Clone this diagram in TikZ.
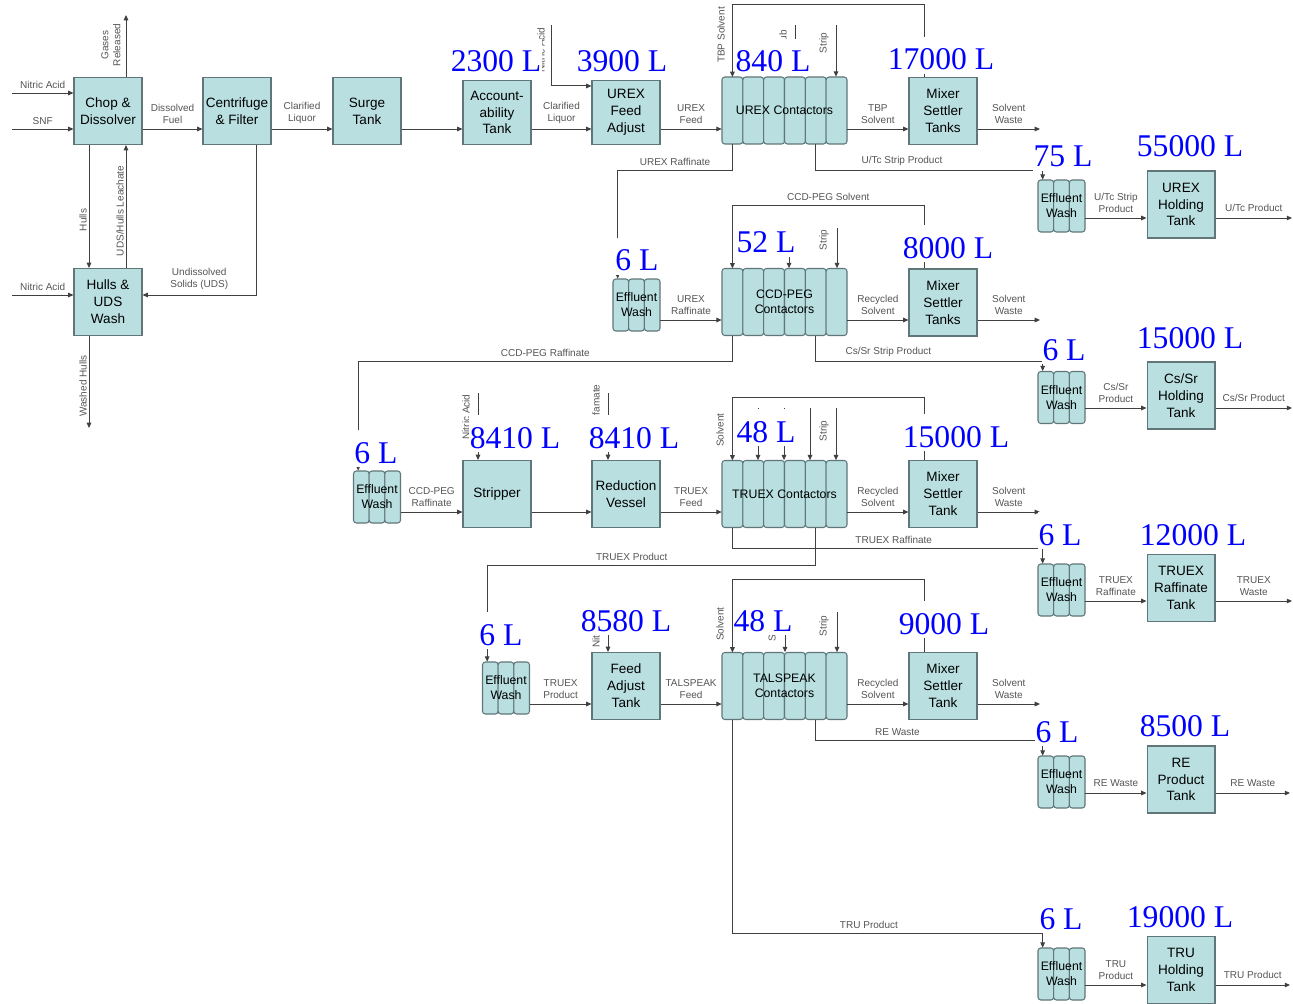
\documentclass[tikz,border=0pt]{standalone}
\usepackage{fontspec}
\setmainfont{Liberation Sans}
\newfontfamily\volfont{Liberation Serif}
\usetikzlibrary{arrows.meta,calc,positioning}

\definecolor{tankfill}{RGB}{185,223,225}
\definecolor{tankline}{RGB}{96,118,120}
\definecolor{pipe}{RGB}{64,64,64}
\definecolor{pipetext}{RGB}{85,85,85}

% six contactor stages, stage tops/bottoms kept as NAME-t1..t6 and NAME-b1..b6
\newcommand{\contactorbank}[4]{%
  \foreach \k in {1,...,6}{%
    \draw[cell] ({#2-62.5+(\k-1)*20.833},{#3-33.5}) rectangle ++(20.833,67);
    \coordinate (#1-t\k) at ({#2-62.5+(\k-0.5)*20.833},{#3-33.5});
    \coordinate (#1-b\k) at ({#2-62.5+(\k-0.5)*20.833},{#3+33.5});
  }
  \node[bank] (#1) at (#2,#3) {#4};
}
% three stage effluent wash
\newcommand{\washbank}[3]{%
  \foreach \k in {1,2,3}{%
    \draw[cell] ({#2-23.5+(\k-1)*15.667},{#3-26}) rectangle ++(15.667,52);
  }
  \node[bank, minimum width=0.94cm, minimum height=1.04cm] (#1) at (#2,#3) {Effluent\\Wash};
}

\begin{document}
\begin{tikzpicture}[
    x=0.02cm, y=-0.02cm,
    tank/.style={rectangle, draw=tankline, fill=tankfill, line width=0.6pt, minimum width=1.36cm, minimum height=1.34cm, inner sep=0pt, align=center, font=\fontsize{7.7}{9.6}\selectfont},
    cell/.style={draw=tankline, fill=tankfill, line width=0.6pt, rounded corners=1.6pt},
    bank/.style={rectangle, inner sep=0pt, minimum width=2.5cm, minimum height=1.34cm, align=center, font=\fontsize{7}{8.5}\selectfont},
    flow/.style={draw=pipe, line width=0.55pt, -{Triangle[length=3pt,width=2.6pt]}},
    tag/.style={font=\fontsize{5.7}{6.8}\selectfont, text=pipetext, align=center, inner sep=0pt},
    vtag/.style={tag, rotate=90},
    vol/.style={font=\volfont\fontsize{18}{18}\selectfont, text=blue, fill=white, inner xsep=0.5pt, inner ysep=0pt, text height=19pt, text depth=2.3pt, anchor=base}
]
\fill[white] (0,0) rectangle (1293,1003);
\useasboundingbox (0,0) rectangle (1293,1003);

% flow levels
\coordinate (r1) at (0,129);
\coordinate (r2) at (0,320);
\coordinate (r3) at (0,512);
\coordinate (r4) at (0,704);
\coordinate (q1) at (0,218);
\coordinate (q2) at (0,408);
\coordinate (q3) at (0,601);
\coordinate (q4) at (0,793);
\coordinate (q5) at (0,985);

% units
\node[tank] (chop) at (108,111) {Chop \&\\Dissolver};
\node[tank] (cent) at (237,111) {Centrifuge\\\& Filter};
\node[tank] (surge) at (367,111) {Surge\\Tank};
\node[tank] (hulls) at (108,302) {Hulls \&\\UDS\\Wash};
\node[tank, minimum height=1.28cm] (acct) at (497,112.5) {Account-\\ability\\Tank};
\node[tank, minimum height=1.28cm] (ufa) at (626,112.5) {UREX\\Feed\\Adjust};
\contactorbank{urexc}{784.5}{110.5}{UREX Contactors}
\node[tank] (msu) at (943,111) {Mixer\\Settler\\Tanks};
\washbank{ew1}{1061.5}{206}
\node[tank] (uht) at (1181,204.5) {UREX\\Holding\\Tank};

\washbank{ew2}{636.5}{305}
\contactorbank{ccdc}{784.5}{302}{CCD-PEG\\Contactors}
\node[tank] (msc) at (943,302.5) {Mixer\\Settler\\Tanks};
\washbank{ew3}{1061.5}{397.5}
\node[tank] (csht) at (1181,395.5) {Cs/Sr\\Holding\\Tank};

\washbank{ew4}{377}{497}
\node[tank] (strp) at (497,494) {Stripper};
\node[tank] (redv) at (626,494) {Reduction\\Vessel};
\contactorbank{truc}{784.5}{494}{TRUEX Contactors}
\node[tank] (mst) at (943,494) {Mixer\\Settler\\Tank};
\washbank{ew5}{1061.5}{590}
\node[tank] (trt) at (1181,588) {TRUEX\\Raffinate\\Tank};

\washbank{ew6}{506}{688}
\node[tank] (fat) at (626,686) {Feed\\Adjust\\Tank};
\contactorbank{talc}{784.5}{686}{TALSPEAK\\Contactors}
\node[tank] (msk) at (943,686) {Mixer\\Settler\\Tank};
\washbank{ew7}{1061.5}{782}
\node[tank] (rept) at (1181,779.5) {RE\\Product\\Tank};
\washbank{ew8}{1061.5}{974}
\node[tank] (truht) at (1181,970) {TRU\\Holding\\Tank};

% free ends
\coordinate (acidA) at (12,93);
\coordinate (snf) at (12,129);
\coordinate (acidB) at (12,295);
\coordinate (gases) at (126,15);
\coordinate (washed) at (89,428);
\coordinate (acidC) at (551,25);
\coordinate (scrubA) at (795,25);
\coordinate (stripA) at (836,25);
\coordinate (wasteA) at (1040,129);
\coordinate (utcout) at (1292,218);
\coordinate (scrubB) at (789,230);
\coordinate (stripB) at (837,228);
\coordinate (wasteB) at (1040,320);
\coordinate (cssrout) at (1292,408);
\coordinate (acidD) at (478,393);
\coordinate (sulf) at (608,393);
\foreach \xx [count=\n] in {758,784,810,836}
  \coordinate (feedC\n) at (\xx,408);
\coordinate (wasteC) at (1040,512);
\coordinate (trwaste) at (1292,601);
\coordinate (acidE) at (608,600);
\coordinate (scrubD) at (785,600);
\coordinate (stripD) at (837,612);
\coordinate (wasteD) at (1040,704);
\coordinate (reout) at (1290,793);
\coordinate (truout) at (1290,985);

% head end
\draw[flow] (acidA) -- (acidA -| chop.west) node[tag, midway, above=2.5pt] {Nitric Acid};
\draw[flow] (snf) -- (snf -| chop.west) node[tag, midway, above=2.5pt] {SNF};
\draw[flow] (gases |- chop.north) -- (gases);
\draw[flow] ($(chop.south)+(-19,0)$) -- ($(hulls.north)+(-19,0)$);
\draw[flow] ($(hulls.north)+(18,0)$) -- ($(chop.south)+(18,0)$);
\draw[flow] (acidB) -- (acidB -| hulls.west) node[tag, midway, above=2.5pt] {Nitric Acid};
\draw[flow] ($(cent.south)+(19,0)$) |- (acidB -| hulls.east) node[tag, pos=0.75, above=3pt] {Undissolved\\Solids (UDS)};
\draw[flow] (washed |- hulls.south) -- (washed);
\draw[flow] (chop.east |- r1) -- (cent.west |- r1) node[tag, midway, above=3pt] {Dissolved\\Fuel};
\draw[flow] (cent.east |- r1) -- (surge.west |- r1) node[tag, midway, above=3pt] {Clarified\\Liquor};
\draw[flow] (surge.east |- r1) -- (acct.west |- r1);
\node[vtag] (lgas) at (111,45) {Gases\\Released};
\node[vtag] (lhulls) at (83,220) {Hulls};
\node[vtag] (lleach) at (120,211) {UDS/Hulls Leachate};
\node[vtag] (lwashed) at (83,386) {Washed Hulls};

% UREX
\draw[flow] (acct.east |- r1) -- (ufa.west |- r1) node[tag, midway, above=3pt] {Clarified\\Liquor};
\draw[flow] (acidC) |- ($(ufa.north west)+(0,6)$);
\draw[flow] (ufa.east |- r1) -- (urexc.west |- r1) node[tag, midway, above=3pt] {UREX\\Feed};
\draw[flow] ($(msu.north)+(-19,0)$) -- ++(0,-72) -| (urexc-t1);
\draw[flow] (scrubA) -- (scrubA |- urexc.north);
\draw[flow] (stripA) -- (stripA |- urexc.north);
\draw[flow] (urexc.east |- r1) -- (msu.west |- r1) node[tag, midway, above=3pt] {TBP\\Solvent};
\draw[flow] (msu.east |- r1) -- (wasteA) node[tag, midway, above=3pt] {Solvent\\Waste};
\draw[flow] (urexc-b1) -- ++(0,26) -| ($(ew2.north west)+(5,0)$) node[tag, pos=0.25, above=2.5pt] {UREX Raffinate};
\draw[flow] (urexc-b5) -- ++(0,26) -| ($(ew1.north west)+(5,0)$) node[tag, pos=0.19, above=2.5pt] {U/Tc Strip Product};
\draw[flow] (ew1.east |- q1) -- (uht.west |- q1) node[tag, midway, above=3pt] {U/Tc Strip\\Product};
\draw[flow] (uht.east |- q1) -- (utcout) node[tag, midway, above=3.5pt] {U/Tc Product};
\node[vtag] (lacidC) at (541,50) {Nitric Acid};
\node[vtag] (ltbp) at (721,35) {TBP Solvent};
\node[vtag] (lscrubA) at (783,43) {Scrub};
\node[vtag] (lstripA) at (824,43) {Strip};

% CCD-PEG
\draw[flow] (ew2.east |- r2) -- (ccdc.west |- r2) node[tag, midway, above=3pt] {UREX\\Raffinate};
\draw[flow] ($(msc.north)+(-19,0)$) -- ++(0,-63) -| (ccdc-t1) node[tag, pos=0.25, above=2.5pt] {CCD-PEG Solvent};
\draw[flow] (scrubB) -- (scrubB |- ccdc.north);
\draw[flow] (stripB) -- (stripB |- ccdc.north);
\draw[flow] (ccdc.east |- r2) -- (msc.west |- r2) node[tag, midway, above=3pt] {Recycled\\Solvent};
\draw[flow] (msc.east |- r2) -- (wasteB) node[tag, midway, above=3pt] {Solvent\\Waste};
\draw[flow] (ccdc-b1) -- ++(0,26) -| ($(ew4.north west)+(5,0)$) node[tag, pos=0.25, above=2.5pt] {CCD-PEG Raffinate};
\draw[flow] (ccdc-b5) -- ++(0,26) -| ($(ew3.north west)+(5,0)$) node[tag, pos=0.16, above=2.5pt] {Cs/Sr Strip Product};
\draw[flow] (ew3.east |- q2) -- (csht.west |- q2) node[tag, midway, above=3pt] {Cs/Sr\\Product};
\draw[flow] (csht.east |- q2) -- (cssrout) node[tag, midway, above=3.5pt] {Cs/Sr Product};
\node[vtag] (lstripB) at (824,240) {Strip};

% TRUEX
\draw[flow] (ew4.east |- r3) -- (strp.west |- r3) node[tag, midway, above=3pt] {CCD-PEG\\Raffinate};
\draw[flow] (acidD) -- (acidD |- strp.north);
\draw[flow] (strp.east |- r3) -- (redv.west |- r3);
\draw[flow] (sulf) -- (sulf |- redv.north);
\draw[flow] (redv.east |- r3) -- (truc.west |- r3) node[tag, midway, above=3pt] {TRUEX\\Feed};
\draw[flow] ($(mst.north)+(-19,0)$) -- ++(0,-62.5) -| (truc-t1);
\foreach \n in {1,...,4}
  \draw[flow] (feedC\n) -- (feedC\n |- truc.north);
\draw[flow] (truc.east |- r3) -- (mst.west |- r3) node[tag, midway, above=3pt] {Recycled\\Solvent};
\draw[flow] (mst.east |- r3) -- (wasteC) node[tag, midway, above=3pt] {Solvent\\Waste};
\draw[flow] (truc-b1) -- ++(0,20.5) -| ($(ew5.north west)+(5,0)$) node[tag, pos=0.26, above=2.5pt] {TRUEX Raffinate};
\draw[flow] (truc-b5) -- ++(0,37.5) -| ($(ew6.north west)+(5,0)$) node[tag, pos=0.28, above=2.5pt] {TRUEX Product};
\draw[flow] (ew5.east |- q3) -- (trt.west |- q3) node[tag, midway, above=3pt] {TRUEX\\Raffinate};
\draw[flow] (trt.east |- q3) -- (trwaste) node[tag, midway, above=3pt] {TRUEX\\Waste};
\node[vtag] (lacidD) at (466,417) {Nitric Acid};
\node[vtag] (lsulf) at (596,407) {Sulfamate};
\node[vtag] (lsolvC) at (720,430) {Solvent};
\node[vtag] (lstripC) at (824,431) {Strip};

% TALSPEAK
\draw[flow] (ew6.east |- r4) -- (fat.west |- r4) node[tag, midway, above=3pt] {TRUEX\\Product};
\draw[flow] (acidE) -- (acidE |- fat.north);
\draw[flow] (fat.east |- r4) -- (talc.west |- r4) node[tag, midway, above=3pt] {TALSPEAK\\Feed};
\draw[flow] ($(msk.north)+(-19,0)$) -- ++(0,-72.5) -| (talc-t1);
\draw[flow] (scrubD) -- (scrubD |- talc.north);
\draw[flow] (stripD) -- (stripD |- talc.north);
\draw[flow] (talc.east |- r4) -- (msk.west |- r4) node[tag, midway, above=3pt] {Recycled\\Solvent};
\draw[flow] (msk.east |- r4) -- (wasteD) node[tag, midway, above=3pt] {Solvent\\Waste};
\draw[flow] (talc-b5) -- ++(0,21) -| ($(ew7.north west)+(5,0)$) node[tag, pos=0.18, above=2.5pt] {RE Waste};
\draw[flow] (talc-b1) -- ++(0,214) -| ($(ew8.north west)+(5,0)$) node[tag, pos=0.22, above=2.5pt] {TRU Product};
\draw[flow] (ew7.east |- q4) -- (rept.west |- q4) node[tag, midway, above=3.5pt] {RE Waste};
\draw[flow] (rept.east |- q4) -- (reout) node[tag, midway, above=3.5pt] {RE Waste};
\draw[flow] (ew8.east |- q5) -- (truht.west |- q5) node[tag, midway, above=3pt] {TRU\\Product};
\draw[flow] (truht.east |- q5) -- (truout) node[tag, midway, above=3.5pt] {TRU Product};
\node[vtag] (lacidE) at (596,625) {Nitric Acid};
\node[vtag] (lsolvD) at (720,624) {Solvent};
\node[vtag] (lscrubD) at (772,628) {Scrub};
\node[vtag] (lstripD) at (824,626) {Strip};

% volumes
\node[vol] (v1) at (496,72) {2300 L};
\node[vol] (v2) at (622,72) {3900 L};
\node[vol] (v3) at (773,72) {840 L};
\node[vol] (v4) at (941,70) {17000 L};
\node[vol] (v5) at (1063,167) {75 L};
\node[vol] (v6) at (1190,157) {55000 L};
\node[vol] (v7) at (637,271) {6 L};
\node[vol] (v8) at (766,253) {52 L};
\node[vol] (v9) at (948,258) {8000 L};
\node[vol] (v10) at (1064,360) {6 L};
\node[vol] (v11) at (1190,348) {15000 L};
\node[vol] (v12) at (376,463) {6 L};
\node[vol] (v13) at (515,448) {8410 L};
\node[vol] (v14) at (634,448) {8410 L};
\node[vol] (v15) at (766,442) {48 L};
\node[vol] (v16) at (956,447) {15000 L};
\node[vol] (v17) at (1060,545) {6 L};
\node[vol] (v18) at (1193,545) {12000 L};
\node[vol] (v19) at (501,645) {6 L};
\node[vol] (v20) at (626,631) {8580 L};
\node[vol] (v21) at (763,631) {48 L};
\node[vol] (v22) at (944,634) {9000 L};
\node[vol] (v23) at (1057,742) {6 L};
\node[vol] (v24) at (1185,736) {8500 L};
\node[vol] (v25) at (1061,929) {6 L};
\node[vol] (v26) at (1180,927) {19000 L};
\end{tikzpicture}
\end{document}
